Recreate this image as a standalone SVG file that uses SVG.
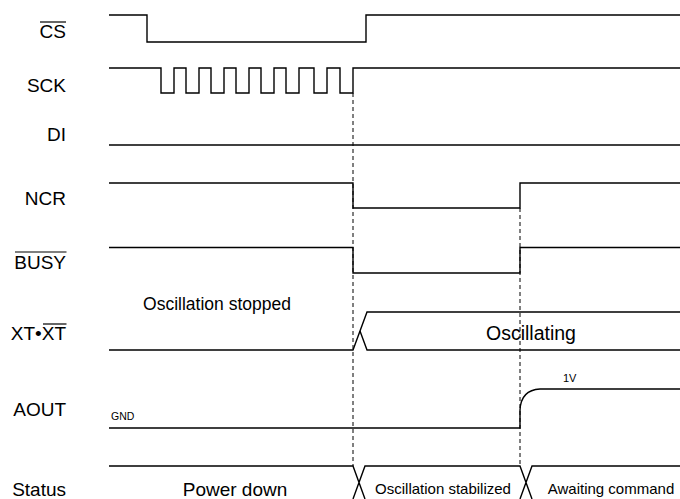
<svg xmlns="http://www.w3.org/2000/svg" width="680" height="499" viewBox="0 0 680 499">
<style>
.sig{fill:none;stroke:#000;stroke-width:1.4;stroke-linejoin:miter}
.ov{stroke:#000;stroke-width:1.2}
.dash{fill:none;stroke:#000;stroke-width:1;stroke-dasharray:4,3}
.lbl{font-family:"Liberation Sans",Arial,sans-serif;font-size:19px;fill:#000;text-anchor:end}
.t{font-family:"Liberation Sans",Arial,sans-serif;fill:#000;text-anchor:middle}
</style>
<rect width="680" height="499" fill="#fff"/>
<g id="connectors">
<line class="dash" x1="353" y1="93" x2="353" y2="466"/>
<line class="dash" x1="520" y1="208" x2="520" y2="466"/>
</g>
<g id="cs">
<text class="lbl" x="66" y="38">CS</text>
<line class="ov" x1="40" y1="22" x2="66" y2="22"/>
<path class="sig" d="M109 15 H147 V42 H366 V15 H680"/>
</g>
<g id="sck">
<text class="lbl" x="66" y="92">SCK</text>
<path class="sig" d="M109 68 H161 V93 H174 V68 H186 V93 H199 V68 H211 V93 H224 V68 H236 V93 H249 V68 H261 V93 H274 V68 H286 V93 H299 V68 H314 V93 H327 V68 H340 V93 H353 V68 H680"/>
</g>
<g id="di">
<text class="lbl" x="66" y="141">DI</text>
<path class="sig" d="M109 145 H680"/>
</g>
<g id="ncr">
<text class="lbl" x="66" y="205">NCR</text>
<path class="sig" d="M109 183 H353 V208 H520 V183 H680"/>
</g>
<g id="busy">
<text class="lbl" x="66" y="269">BUSY</text>
<line class="ov" x1="15" y1="252" x2="66.5" y2="252"/>
<path class="sig" d="M109 247.5 H353 V273 H520 V247.5 H680"/>
</g>
<g id="xt">
<text class="lbl" x="66" y="340">XT•XT</text>
<line class="ov" x1="43" y1="324" x2="66.5" y2="324"/>
<path class="sig" d="M109 350 H353 L367 312 H680"/>
<path class="sig" d="M360 331 L367 350 H680"/>
<text class="t" x="217" y="310" font-size="17.5">Oscillation stopped</text>
<text class="t" x="531" y="340" font-size="19.5">Oscillating</text>
</g>
<g id="aout">
<text class="lbl" x="66" y="416">AOUT</text>
<text x="111" y="420" font-family="Liberation Sans, Arial, sans-serif" font-size="10.5">GND</text>
<path class="sig" d="M109 428 H520 V410 Q521 390 540 389 H680"/>
<text x="563" y="382" font-family="Liberation Sans, Arial, sans-serif" font-size="11">1V</text>
</g>
<g id="status">
<text class="lbl" x="66" y="496">Status</text>
<path class="sig" d="M109 466 H353 L365 499 M353 499 L365 466 H520 L532 499 M520 499 L532 466 H680"/>
<text class="t" x="235" y="496" font-size="19">Power down</text>
<text class="t" x="443" y="494" font-size="15">Oscillation stabilized</text>
<text class="t" x="611" y="494" font-size="15">Awaiting command</text>
</g>
</svg>
